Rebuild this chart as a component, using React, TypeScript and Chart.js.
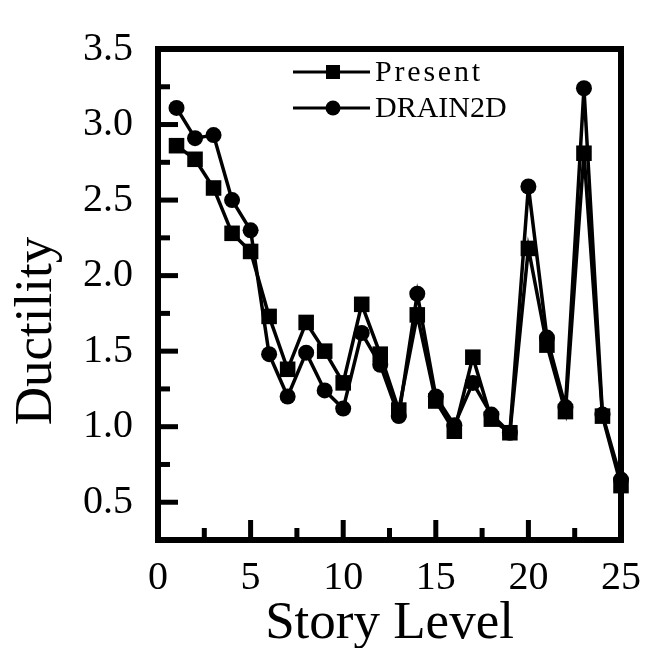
import { useEffect, useRef } from 'react';
import { Chart, registerables } from 'chart.js';

Chart.register(...registerables);

const storyLevels = [1, 2, 3, 4, 5, 6, 7, 8, 9, 10, 11, 12, 13, 14, 15, 16, 17, 18, 19, 20, 21, 22, 23, 24, 25];
const presentDuctility = [2.86, 2.77, 2.58, 2.28, 2.16, 1.73, 1.38, 1.69, 1.50, 1.29, 1.81, 1.48, 1.11, 1.74, 1.17, 0.97, 1.46, 1.05, 0.96, 2.18, 1.54, 1.10, 2.81, 1.07, 0.61];
const drain2dDuctility = [3.11, 2.91, 2.93, 2.50, 2.30, 1.48, 1.20, 1.49, 1.24, 1.12, 1.62, 1.41, 1.07, 1.88, 1.20, 1.01, 1.29, 1.08, 0.96, 2.59, 1.59, 1.13, 3.24, 1.08, 0.65];
const seriesNames = ['Present', 'DRAIN2D'];
const xTitle = 'Story Level';
const yTitle = 'Ductility';

const FONT = '"Liberation Serif", "Times New Roman", serif';

const frameTicksPlugin = {
  id: 'frameTicks',
  afterDatasetsDraw(chart: any) {
    const { ctx, chartArea: a, scales } = chart;
    ctx.save();
    ctx.fillStyle = '#000';
    const tw = 5;
    for (const t of scales.y.ticks) {
      const v = t.value;
      const py = scales.y.getPixelForValue(v);
      const major = Math.abs(v * 2 - Math.round(v * 2)) < 1e-6;
      ctx.fillRect(a.left, py - tw / 2, major ? 20 : 12, tw);
    }
    for (const t of scales.x.ticks) {
      const v = t.value;
      const px = scales.x.getPixelForValue(v);
      const major = Math.abs(v / 5 - Math.round(v / 5)) < 1e-6;
      const len = major ? 20 : 12;
      ctx.fillRect(px - tw / 2, a.bottom - len, tw, len);
    }
    const fw = 6;
    const h = fw / 2;
    ctx.fillRect(a.left - h, a.top - h, a.right - a.left + fw, fw);
    ctx.fillRect(a.left - h, a.bottom - h, a.right - a.left + fw, fw);
    ctx.fillRect(a.left - h, a.top - h, fw, a.bottom - a.top + fw);
    ctx.fillRect(a.right - h, a.top - h, fw, a.bottom - a.top + fw);
    ctx.restore();
  },
  afterDraw(chart: any) {
    const { ctx } = chart;
    ctx.save();
    ctx.fillStyle = '#000';
    ctx.font = `53px ${FONT}`;
    ctx.textAlign = 'center';
    ctx.textBaseline = 'alphabetic';
    ctx.translate(51, 331);
    ctx.rotate(-Math.PI / 2);
    ctx.fillText(yTitle, 0, 0);
    ctx.restore();

    ctx.save();
    const rows = [
      { name: seriesNames[0], style: 'rect', y: 72, spacing: '2.8px' },
      { name: seriesNames[1], style: 'circle', y: 108, spacing: '0px' },
    ];
    for (const r of rows) {
      ctx.strokeStyle = '#000';
      ctx.fillStyle = '#000';
      ctx.lineWidth = 3;
      ctx.beginPath();
      ctx.moveTo(293, r.y);
      ctx.lineTo(370, r.y);
      ctx.stroke();
      if (r.style === 'rect') {
        ctx.fillRect(333 - 7, r.y - 7, 14, 14);
      } else {
        ctx.beginPath();
        ctx.arc(333, r.y, 7.5, 0, Math.PI * 2);
        ctx.fill();
      }
      ctx.font = `30px ${FONT}`;
      (ctx as any).letterSpacing = r.spacing;
      ctx.textAlign = 'left';
      ctx.textBaseline = 'middle';
      ctx.fillText(r.name, 375, r.y + 1);
    }
    (ctx as any).letterSpacing = '0px';
    ctx.restore();
  },
};

export default function App() {
  const ref = useRef<HTMLCanvasElement | null>(null);
  useEffect(() => {
    if (!ref.current) return;
    const chart = new Chart(ref.current, {
      type: 'line',
      data: {
        datasets: [
          {
            label: seriesNames[0],
            data: storyLevels.map((x, i) => ({ x, y: presentDuctility[i] })),
            borderColor: '#000',
            backgroundColor: '#000',
            borderWidth: 3.5,
            pointStyle: 'rect',
            pointRadius: 11,
            pointBorderWidth: 0,
            pointBackgroundColor: '#000',
            tension: 0,
            clip: false as any,
          },
          {
            label: seriesNames[1],
            data: storyLevels.map((x, i) => ({ x, y: drain2dDuctility[i] })),
            borderColor: '#000',
            backgroundColor: '#000',
            borderWidth: 3.5,
            pointStyle: 'circle',
            pointRadius: 8,
            pointBorderWidth: 0,
            pointBackgroundColor: '#000',
            tension: 0,
            clip: false as any,
          },
        ],
      },
      options: {
        animation: false,
        responsive: false,
        maintainAspectRatio: false,
        layout: { padding: { left: 0, right: 19, top: 34, bottom: 0 } },
        plugins: { legend: { display: false }, tooltip: { enabled: false } },
        scales: {
          x: {
            type: 'linear',
            min: 0,
            max: 25,
            grid: { display: false, drawTicks: false },
            border: { display: false },
            afterFit: (s: any) => { s.height = 108; },
            ticks: {
              stepSize: 2.5,
              autoSkip: false,
              maxRotation: 0,
              padding: 14,
              color: '#000',
              font: { family: FONT, size: 40 },
              callback: (v: any) => (Math.abs(v / 5 - Math.round(v / 5)) < 1e-6 ? String(v) : ''),
            },
            title: {
              display: true,
              text: xTitle,
              color: '#000',
              font: { family: FONT, size: 53, lineHeight: 0.9 },
              padding: { top: 0, bottom: 0 },
            },
          },
          y: {
            type: 'linear',
            min: 0.25,
            max: 3.5,
            grid: { display: false, drawTicks: false },
            border: { display: false },
            afterFit: (s: any) => { s.width = 158; },
            ticks: {
              stepSize: 0.25,
              autoSkip: false,
              padding: 25,
              color: '#000',
              font: { family: FONT, size: 40 },
              callback: (v: any) => (Math.abs(v * 2 - Math.round(v * 2)) < 1e-6 ? Number(v).toFixed(1) : ''),
            },
            title: { display: false, text: yTitle },
          },
        },
      },
      plugins: [frameTicksPlugin],
    });
    return () => chart.destroy();
  }, []);
  return (
    <div style={{ position: 'fixed', left: 0, top: 0, width: 655, height: 648, background: '#fff' }}>
      <canvas ref={ref} width={655} height={648} style={{ width: 655, height: 648, display: 'block' }} />
    </div>
  );
}
